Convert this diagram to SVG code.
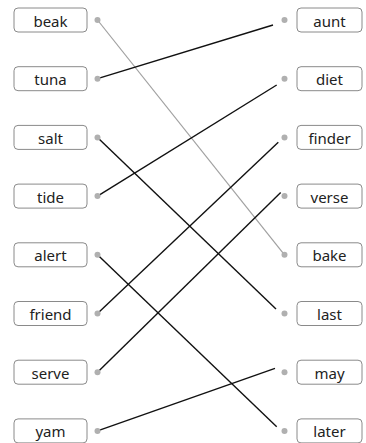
<svg xmlns="http://www.w3.org/2000/svg" width="366" height="443" viewBox="0 0 366 443">
<style>
.box{fill:#fff;stroke:#8a8a8a;stroke-width:1}
.dot{fill:#b0b0b0}
.lbl{font-family:"Noto Sans","Open Sans",sans-serif;font-size:15px;fill:#222;text-anchor:middle}
.ln{stroke:#111;stroke-width:1.4;fill:none}
.lg{stroke:#a0a0a0;stroke-width:1.2;fill:none}
</style>
<rect width="366" height="443" fill="#fff"/>
<g id="connectors">
<line class="lg" x1="97.5" y1="20" x2="284.5" y2="254.8"/>
<line class="ln" x1="97.5" y1="78.7" x2="273" y2="25"/>
<line class="ln" x1="97.5" y1="137.4" x2="276" y2="309"/>
<line class="ln" x1="97.5" y1="196.1" x2="276.7" y2="85"/>
<line class="ln" x1="97.5" y1="254.8" x2="276.7" y2="426.7"/>
<line class="ln" x1="97.5" y1="313.5" x2="278.3" y2="142.3"/>
<line class="ln" x1="97.5" y1="372.2" x2="280.7" y2="192.5"/>
<line class="ln" x1="97.5" y1="430.9" x2="275" y2="368.3"/>
</g>
<g id="n-beak"><rect class="box" x="14" y="8" width="73" height="24" rx="4"/><text class="lbl" x="50.5" y="26.5">beak</text><circle class="dot" cx="97.5" cy="20" r="3"/></g>
<g id="n-tuna"><rect class="box" x="14" y="66.7" width="73" height="24" rx="4"/><text class="lbl" x="50.5" y="85.2">tuna</text><circle class="dot" cx="97.5" cy="78.7" r="3"/></g>
<g id="n-salt"><rect class="box" x="14" y="125.4" width="73" height="24" rx="4"/><text class="lbl" x="50.5" y="143.9">salt</text><circle class="dot" cx="97.5" cy="137.4" r="3"/></g>
<g id="n-tide"><rect class="box" x="14" y="184.1" width="73" height="24" rx="4"/><text class="lbl" x="50.5" y="202.6">tide</text><circle class="dot" cx="97.5" cy="196.1" r="3"/></g>
<g id="n-alert"><rect class="box" x="14" y="242.8" width="73" height="24" rx="4"/><text class="lbl" x="50.5" y="261.3">alert</text><circle class="dot" cx="97.5" cy="254.8" r="3"/></g>
<g id="n-friend"><rect class="box" x="14" y="301.5" width="73" height="24" rx="4"/><text class="lbl" x="50.5" y="320">friend</text><circle class="dot" cx="97.5" cy="313.5" r="3"/></g>
<g id="n-serve"><rect class="box" x="14" y="360.2" width="73" height="24" rx="4"/><text class="lbl" x="50.5" y="378.7">serve</text><circle class="dot" cx="97.5" cy="372.2" r="3"/></g>
<g id="n-yam"><rect class="box" x="14" y="418.9" width="73" height="24" rx="4"/><text class="lbl" x="50.5" y="437.4">yam</text><circle class="dot" cx="97.5" cy="430.9" r="3"/></g>
<g id="n-aunt"><rect class="box" x="297" y="8" width="65" height="24" rx="4"/><text class="lbl" x="329.5" y="26.5">aunt</text><circle class="dot" cx="284.5" cy="20" r="3"/></g>
<g id="n-diet"><rect class="box" x="297" y="66.7" width="65" height="24" rx="4"/><text class="lbl" x="329.5" y="85.2">diet</text><circle class="dot" cx="284.5" cy="78.7" r="3"/></g>
<g id="n-finder"><rect class="box" x="297" y="125.4" width="65" height="24" rx="4"/><text class="lbl" x="329.5" y="143.9">finder</text><circle class="dot" cx="284.5" cy="137.4" r="3"/></g>
<g id="n-verse"><rect class="box" x="297" y="184.1" width="65" height="24" rx="4"/><text class="lbl" x="329.5" y="202.6">verse</text><circle class="dot" cx="284.5" cy="196.1" r="3"/></g>
<g id="n-bake"><rect class="box" x="297" y="242.8" width="65" height="24" rx="4"/><text class="lbl" x="329.5" y="261.3">bake</text><circle class="dot" cx="284.5" cy="254.8" r="3"/></g>
<g id="n-last"><rect class="box" x="297" y="301.5" width="65" height="24" rx="4"/><text class="lbl" x="329.5" y="320">last</text><circle class="dot" cx="284.5" cy="313.5" r="3"/></g>
<g id="n-may"><rect class="box" x="297" y="360.2" width="65" height="24" rx="4"/><text class="lbl" x="329.5" y="378.7">may</text><circle class="dot" cx="284.5" cy="372.2" r="3"/></g>
<g id="n-later"><rect class="box" x="297" y="418.9" width="65" height="24" rx="4"/><text class="lbl" x="329.5" y="437.4">later</text><circle class="dot" cx="284.5" cy="430.9" r="3"/></g>
</svg>
